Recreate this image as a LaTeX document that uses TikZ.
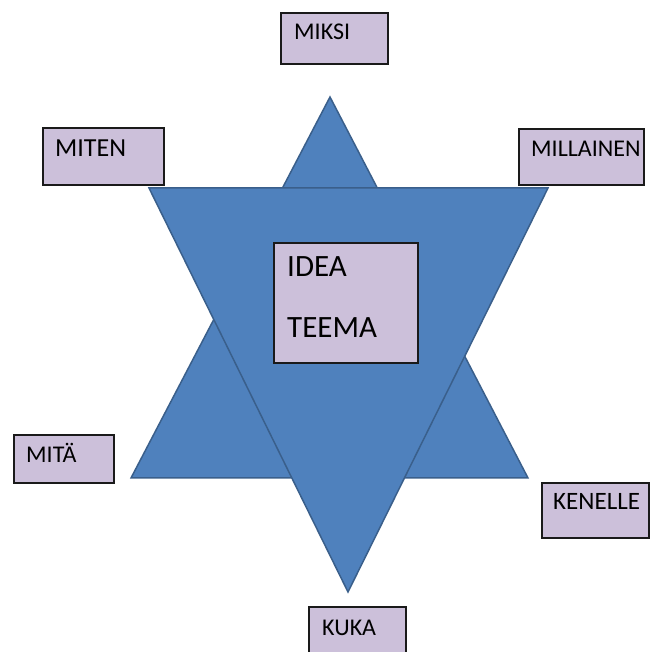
\documentclass[tikz,border=0pt]{standalone}
\usepackage{fontspec}
\setmainfont{Carlito}
\definecolor{starblue}{HTML}{4F81BD}
\definecolor{starline}{HTML}{3A5F8B}
\definecolor{boxfill}{HTML}{CCC0DA}
\definecolor{boxline}{HTML}{1A1A1A}
\tikzset{
  box/.style={draw=boxline, fill=boxfill, line width=1.6pt, inner sep=0pt, anchor=north west},
  lbl/.style={inner sep=0pt, anchor=base west, text=black, font=\fontsize{24}{28}\selectfont},
  biglbl/.style={inner sep=0pt, anchor=base west, text=black, font=\fontsize{31}{36}\selectfont},
  tri/.style={fill=starblue, draw=starline, line width=1.5pt, line join=miter}
}
\begin{document}
\begin{tikzpicture}[x=1pt, y=-1pt]
\useasboundingbox (0,0) rectangle (654,652);
% upward triangle
\coordinate (ua) at (330,97);
\coordinate (ul) at (131,478);
\coordinate (ur) at (528,478);
\filldraw[tri] (ua) -- (ur) -- (ul) -- cycle;
% downward triangle
\coordinate (dl) at (149,188);
\coordinate (dr) at (548,188);
\coordinate (da) at (348,592);
\filldraw[tri] (dl) -- (dr) -- (da) -- cycle;
% boxes
\node[box, minimum width=107pt, minimum height=51pt] (miksi) at (280,12) {};
\node[lbl] (miksiT) at (294,40) {MIKSI};
\node[box, minimum width=121pt, minimum height=57pt] (miten) at (42,127) {};
\node[lbl, font=\fontsize{26}{30}\selectfont] (mitenT) at (55,157) {MITEN};
\node[box, minimum width=125pt, minimum height=56pt] (millainen) at (518,128) {};
\node[lbl] (millainenT) at (531,157) {MILLAINEN};
\node[box, minimum width=144pt, minimum height=120pt] (idea) at (273,242) {};
\node[biglbl] (ideaT) at (287,277) {IDEA};
\node[biglbl] (teemaT) at (287,338) {TEEMA};
\node[box, minimum width=100pt, minimum height=48pt] (mita) at (13,434) {};
\node[lbl] (mitaT) at (26,463) {MITÄ};
\node[box, minimum width=107pt, minimum height=55pt] (kenelle) at (541,482) {};
\node[lbl, font=\fontsize{25}{29}\selectfont] (kenelleT) at (553,510) {KENELLE};
\node[box, minimum width=97pt, minimum height=50pt] (kuka) at (308,606) {};
\node[lbl] (kukaT) at (322,635) {KUKA};
\end{tikzpicture}
\end{document}
